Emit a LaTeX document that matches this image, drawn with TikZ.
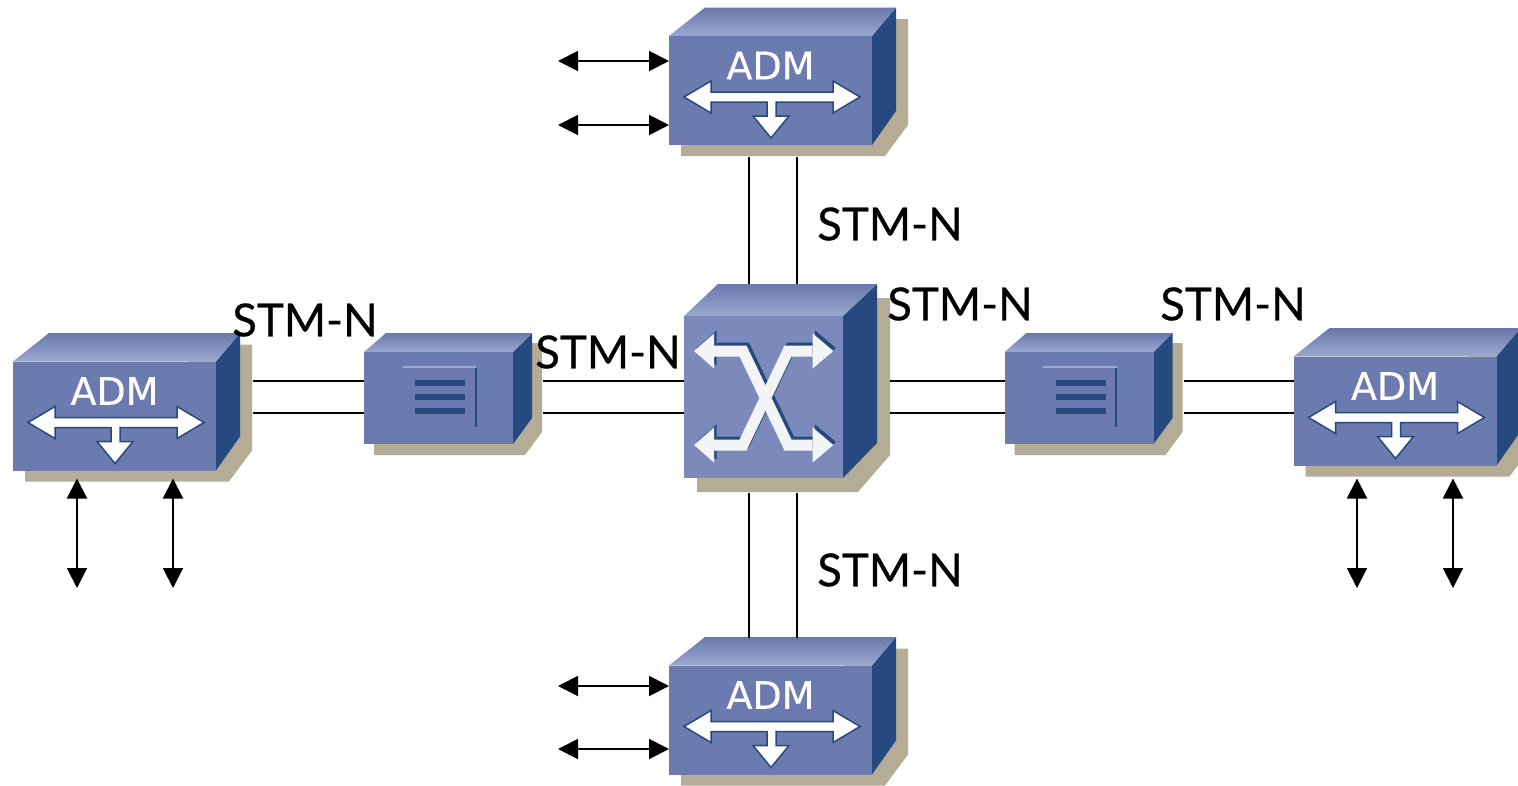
\documentclass[tikz,border=0pt]{standalone}
\usepackage{fontspec}
\setmainfont{Lato}
\newfontfamily\stmfont[FakeBold=0.5]{Lato}
\newfontfamily\admfont[FakeBold=0.4]{DejaVu Sans}
\usetikzlibrary{arrows.meta,calc}
\definecolor{facecol}{HTML}{6B7BB0}
\definecolor{xcface}{HTML}{7C8ABB}
\definecolor{sidecol}{HTML}{264A80}
\definecolor{shadowcol}{HTML}{B4AC94}
\definecolor{toplight}{HTML}{9BA9CF}
\definecolor{topdark}{HTML}{6878AC}
\definecolor{xcwhite}{HTML}{F2F4F6}
\tikzset{
  faceA/.style={rectangle,fill=facecol,draw=none,inner sep=0pt,outer sep=0pt},
  shadowshape/.style={fill=shadowcol},
  sideshape/.style={fill=sidecol},
  topshape/.style={top color=topdark,bottom color=toplight},
  glyph/.style={fill=white,draw=sidecol,line width=1.5pt,line join=miter},
  admtext/.style={text=white,font=\admfont\fontsize{38}{38}\selectfont,inner sep=0pt},
  stm/.style={text=black,font=\stmfont\fontsize{45.5}{46}\selectfont,inner sep=0pt},
  link/.style={line width=2pt,black},
  tap/.style={line width=2pt,black,{Triangle[length=20pt,width=20pt]}-{Triangle[length=20pt,width=20pt]}},
}
\newcommand{\admbox}[3]{%
  \begin{scope}[shift={(#2,#3)}]
    \fill[shadowshape] (-89.5,50) -- (-89.5,65.5) -- (114.5,65.5) -- (137.5,34.5) -- (137.5,-71.5) -- (100,-71.5) -- cycle;
    \fill[sideshape] (101.5,-54.5) -- (125.5,-83) -- (125.5,20.5) -- (101.5,54.5) -- cycle;
    \shade[topshape] (-101.5,-54.5) -- (-65.5,-83) -- (125.5,-83) -- (101.5,-54.5) -- cycle;
    \node[faceA,minimum width=203pt,minimum height=109pt] (#1) at (0,0) {};
    \node[admtext] (#1t) at (0,-25) {ADM};
    \draw[glyph] (-86.5,6.5) -- (-59.5,-9.5) -- (-59.5,1.5) -- (62.5,1.5) -- (62.5,-9.5) -- (89.5,6.5) -- (62.5,22.5) -- (62.5,11.5) -- (5.5,11.5) -- (5.5,25.5) -- (18.5,25.5) -- (0.5,47.5) -- (-17.5,25.5) -- (-3.5,25.5) -- (-3.5,11.5) -- (-59.5,11.5) -- (-59.5,22.5) -- cycle;
  \end{scope}}
\newcommand{\regenbox}[3]{%
  \begin{scope}[shift={(#2,#3)}]
    \fill[shadowshape] (-64.5,40) -- (-64.5,57) -- (86.5,57) -- (103.5,34) -- (103.5,-55) -- (70,-55) -- cycle;
    \fill[sideshape] (74.5,-46) -- (93.5,-65) -- (93.5,20) -- (74.5,46) -- cycle;
    \shade[topshape] (-74.5,-46) -- (-52.5,-65) -- (93.5,-65) -- (74.5,-46) -- cycle;
    \node[faceA,minimum width=149pt,minimum height=92pt] (#1) at (0,0) {};
    \draw[line width=2.5pt,toplight] (-36,-31) -- (37.5,-31);
    \draw[line width=2pt,sidecol] (37,-30) -- (37,29);
    \foreach \yy in {-15,-1,13} {\fill[sidecol] (-23.5,\yy-3) rectangle (26.5,\yy+3);}
  \end{scope}}
\newcommand{\xarrows}[1]{%
  \draw[#1,line width=11pt,line join=miter] (714,351) -- (743,351) -- (788,445) -- (812.7,445);
  \draw[#1,line width=11pt,line join=miter] (812.7,351) -- (788,351) -- (743,445) -- (714,445);
  \foreach \yy in {351,445} {
    \fill[#1] (714,\yy-17.5) -- (694,\yy) -- (714,\yy+17.5) -- cycle;
    \fill[#1] (812.7,\yy-17.5) -- (833.3,\yy) -- (812.7,\yy+17.5) -- cycle;}}
\begin{document}
\begin{tikzpicture}[x=1pt,y=-1pt]
\useasboundingbox (0,0) rectangle (1518,785);
\fill[white] (0,0) rectangle (1518,785);
% devices
\admbox{admT}{770.5}{90.5}
\admbox{admB}{770.5}{720}
\admbox{admL}{114.5}{416}
\admbox{admR}{1395}{411}
\regenbox{regL}{438.5}{398}
\regenbox{regR}{1079}{398}
% cross-connect
\fill[shadowshape] (697,460) -- (697,492) -- (858,492) -- (890,455) -- (890,298) -- (860,298) -- cycle;
\fill[sideshape] (843,316) -- (877,284) -- (877,443) -- (843,478) -- cycle;
\shade[topshape] (684,316) -- (718,284) -- (877,284) -- (843,316) -- cycle;
\node[faceA,fill=xcface,minimum width=159pt,minimum height=162pt] (xc) at (763.5,397) {};
\begin{scope}[shift={(2.5,-3)}]
  \xarrows{sidecol}
\end{scope}
\xarrows{xcwhite}
% STM-N links
\draw[link] ($(admT.south)+(-21.5,12)$) -- ($(xc.north)+(-14.5,-32)$);
\draw[link] ($(admT.south)+(26.5,12)$) -- ($(xc.north)+(33.5,-32)$);
\draw[link] ($(xc.south)+(-14.5,15)$) -- ($(admB.north)+(-21.5,-28)$);
\draw[link] ($(xc.south)+(33.5,15)$) -- ($(admB.north)+(26.5,-28)$);
\foreach \yy in {-16,16} {
  \draw[link] ($(admL.east)+(37,\yy-19)$) -- ($(regL.west)+(0,\yy-1)$);
  \draw[link] ($(regL.east)+(30,\yy-1)$) -- ($(xc.west)+(0,\yy)$);
  \draw[link] ($(xc.east)+(47,\yy)$) -- ($(regR.west)+(0,\yy-1)$);
  \draw[link] ($(regR.east)+(30,\yy-1)$) -- ($(admR.west)+(0,\yy-14)$);
}
% tributary arrows
\coordinate (fT1) at (558,61);
\coordinate (fT2) at (558,125);
\coordinate (fB1) at (558,686);
\coordinate (fB2) at (558,749);
\coordinate (fL1) at (77,588);
\coordinate (fL2) at (173,588);
\coordinate (fR1) at (1357,588);
\coordinate (fR2) at (1453,588);
\draw[tap] (fT1) -- (fT1 -| admT.west);
\draw[tap] (fT2) -- (fT2 -| admT.west);
\draw[tap] (fB1) -- (fB1 -| admB.west);
\draw[tap] (fB2) -- (fB2 -| admB.west);
\draw[tap] (fL1) -- ($(fL1 |- admL.south)+(0,8)$);
\draw[tap] (fL2) -- ($(fL2 |- admL.south)+(0,8)$);
\draw[tap] (fR1) -- ($(fR1 |- admR.south)+(0,13)$);
\draw[tap] (fR2) -- ($(fR2 |- admR.south)+(0,13)$);
% labels
\node[stm] (s1) at (305,320) {STM-N};
\node[stm] (s2) at (608,352) {STM-N};
\node[stm] (s3) at (890,224) {STM-N};
\node[stm] (s4) at (960,304) {STM-N};
\node[stm] (s5) at (1233,304) {STM-N};
\node[stm] (s6) at (890,570) {STM-N};
\end{tikzpicture}
\end{document}
